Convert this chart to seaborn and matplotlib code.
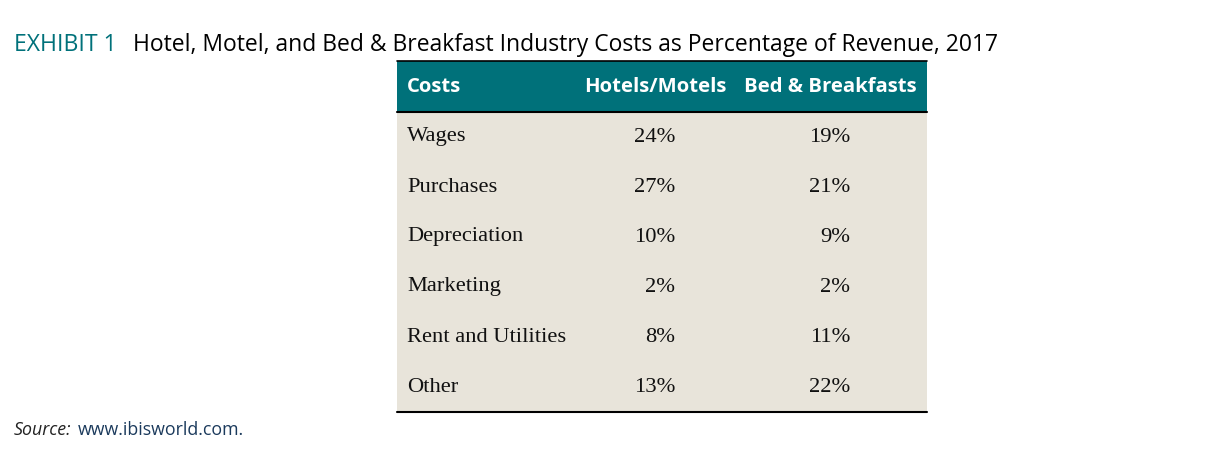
import matplotlib
matplotlib.use("Agg")
import matplotlib.pyplot as plt
from matplotlib.colors import ListedColormap
import numpy as np
import pandas as pd
import seaborn as sns

costs = ["Wages", "Purchases", "Depreciation", "Marketing", "Rent and Utilities", "Other"]
hotels_motels = [24, 27, 10, 2, 8, 13]
bed_breakfasts = [19, 21, 9, 2, 11, 22]
columns = ["Costs", "Hotels/Motels", "Bed & Breakfasts"]

TEAL = "#00717A"
BEIGE = "#E8E4DA"
W, H = 1209, 459

sns.set_theme(style="white")
plt.rcParams["font.family"] = ["Open Sans", "DejaVu Sans"]

fig = plt.figure(figsize=(W / 100, H / 100), dpi=100)

# table geometry in pixels
left, right, top = 397, 927, 61
head_h, row_h = 51, 50
body_top = top + head_h
body_bot = body_top + row_h * len(costs)

# body background drawn as a flat heatmap
df = pd.DataFrame({"h": hotels_motels, "b": bed_breakfasts}, index=costs)
hax = fig.add_axes([left / W, 1 - body_bot / H, (right - left) / W, (body_bot - body_top) / H])
sns.heatmap(np.zeros(df.shape), cmap=ListedColormap([BEIGE]), cbar=False,
            xticklabels=False, yticklabels=False, ax=hax, linewidths=0)

ax = fig.add_axes([0, 0, 1, 1], facecolor="none")
ax.set_xlim(0, W)
ax.set_ylim(H, 0)
ax.axis("off")

# header
ax.add_patch(plt.Rectangle((left, top), right - left, head_h, color=TEAL, lw=0))
ax.plot([left, right], [top, top], color="black", lw=1.2)
ax.plot([left, right], [body_top, body_top], color="black", lw=1.5)
ax.plot([left, right], [body_bot, body_bot], color="black", lw=1.5)

hy = top + head_h / 2
hfont = dict(color="white", fontsize=14.6, fontweight="bold", va="center")
ax.text(407, hy, columns[0], ha="left", **hfont)
ax.text(726, hy, columns[1], ha="right", **hfont)
ax.text(917, hy, columns[2], ha="right", **hfont)

serif = ["Liberation Serif", "DejaVu Serif"]
bfont = dict(family=serif, fontsize=16.2, color="#111111", va="center")
for i, name in enumerate(df.index):
    y = body_top + row_h * (i + 0.5)
    ax.text(407, y, name, ha="left", **bfont)
    ax.text(675, y, f"{df['h'].iloc[i]}%", ha="right", **bfont)
    ax.text(850, y, f"{df['b'].iloc[i]}%", ha="right", **bfont)

# title
ax.text(14, 45, "EXHIBIT 1", color=TEAL, fontsize=16.6, va="center", ha="left")
ax.text(133, 45, "Hotel, Motel, and Bed & Breakfast Industry Costs as Percentage of Revenue, 2017",
        color="black", fontsize=16.5, va="center", ha="left")

# source
ax.text(14, 430, "Source:", fontsize=12.8, style="italic", color="#222222", va="center", ha="left")
ax.text(78, 430, "www.ibisworld.com.", fontsize=12.8, color="#1B3A5C", va="center", ha="left")

fig.savefig("out.png", dpi=100)
